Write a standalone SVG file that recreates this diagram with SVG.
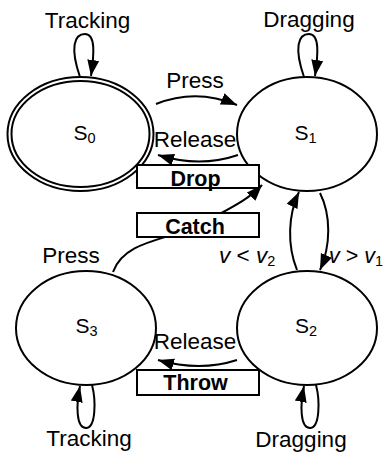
<svg xmlns="http://www.w3.org/2000/svg" width="384" height="453" viewBox="0 0 384 453">
<defs>
<marker id="ah" markerUnits="userSpaceOnUse" markerWidth="17" markerHeight="13" refX="16" refY="6.5" orient="auto">
<path d="M0,0.5 L16,6.5 L0,12.5 z" fill="#000"/>
</marker>
<style>
.st{fill:#fff;stroke:#000;stroke-width:2}
.lbl{font-family:"Liberation Sans",Arial,sans-serif;font-size:22.5px;fill:#000}
.sn{font-family:"Liberation Sans",Arial,sans-serif;font-size:21px;fill:#000}
.sub{font-size:14.5px}
.box{fill:#fff;stroke:#000;stroke-width:2}
.bold{font-family:"Liberation Sans",Arial,sans-serif;font-size:21.5px;font-weight:bold;fill:#000}
.edge{fill:none;stroke:#000;stroke-width:2;marker-end:url(#ah)}
.it{font-style:italic}
</style>
</defs>
<rect width="384" height="453" fill="#fff"/>
<g id="connectors">
<path class="edge" d="M80,77 C 70,48 74,34 85,34 C 96,34 94,55 91,76"/>
<path class="edge" d="M304,77 C 294,48 298,34 309,34 C 320,34 318,55 315,76"/>
<path class="edge" d="M92,385 C 96,400 96,428 86,428 C 76,428 76,405 80,386"/>
<path class="edge" d="M316,385 C 320,400 320,428 310,428 C 300,428 300,405 304,386"/>
<path class="edge" d="M156,104 Q 196,88 237,105"/>
<path class="edge" d="M238,155 Q 200,168 158,155"/>
<path class="edge" d="M237,360 Q 200,372 158,360"/>
<path class="edge" d="M113,272 C 125,238 175,240 205,222 C 230,208 248,200 262,185"/>
<path class="edge" d="M297,270 C 287,245 288,215 299,192"/>
<path class="edge" d="M320,193 C 331,215 331,245 320,270"/>
</g>
<g id="S0">
<ellipse class="st" cx="80.5" cy="134" rx="73" ry="57"/>
<ellipse class="st" cx="80.5" cy="134" rx="69" ry="53"/>
<text class="sn" x="84.5" y="139.5" text-anchor="middle">S<tspan class="sub" dy="3">0</tspan></text>
</g>
<g id="S1">
<ellipse class="st" cx="307" cy="134" rx="70" ry="57"/>
<text class="sn" x="305.5" y="139.5" text-anchor="middle">S<tspan class="sub" dy="3">1</tspan></text>
</g>
<g id="S2">
<ellipse class="st" cx="307" cy="328" rx="70" ry="57"/>
<text class="sn" x="306" y="333" text-anchor="middle">S<tspan class="sub" dy="3">2</tspan></text>
</g>
<g id="S3">
<ellipse class="st" cx="86" cy="328" rx="70" ry="57"/>
<text class="sn" x="86.5" y="333" text-anchor="middle">S<tspan class="sub" dy="3">3</tspan></text>
</g>
<g id="labels">
<text class="lbl" x="87.5" y="27.5" text-anchor="middle">Tracking</text>
<text class="lbl" x="309" y="27" text-anchor="middle">Dragging</text>
<text class="lbl" x="195" y="88" text-anchor="middle">Press</text>
<text class="lbl" x="195" y="147" text-anchor="middle">Release</text>
<text class="lbl" x="71" y="263" text-anchor="middle">Press</text>
<text class="lbl" x="195" y="349" text-anchor="middle">Release</text>
<text class="lbl" x="89" y="446" text-anchor="middle">Tracking</text>
<text class="lbl" x="301" y="446.5" text-anchor="middle">Dragging</text>
<text class="lbl" x="219" y="263"><tspan class="it">v</tspan> &lt; <tspan class="it">v</tspan><tspan class="sub" dy="3">2</tspan></text>
<text class="lbl" x="329" y="263" style="font-size:21.5px"><tspan class="it">v</tspan> &gt; <tspan class="it">v</tspan><tspan class="sub" dy="3">1</tspan></text>
</g>
<g id="Drop">
<rect class="box" x="137" y="165" width="122" height="23"/>
<text class="bold" x="195.5" y="186" text-anchor="middle">Drop</text>
</g>
<g id="Catch">
<rect class="box" x="137" y="213" width="122" height="24"/>
<text class="bold" x="195" y="234" text-anchor="middle">Catch</text>
</g>
<g id="Throw">
<rect class="box" x="137" y="370" width="122" height="25"/>
<text class="bold" x="195.5" y="390" text-anchor="middle">Throw</text>
</g>
</svg>
